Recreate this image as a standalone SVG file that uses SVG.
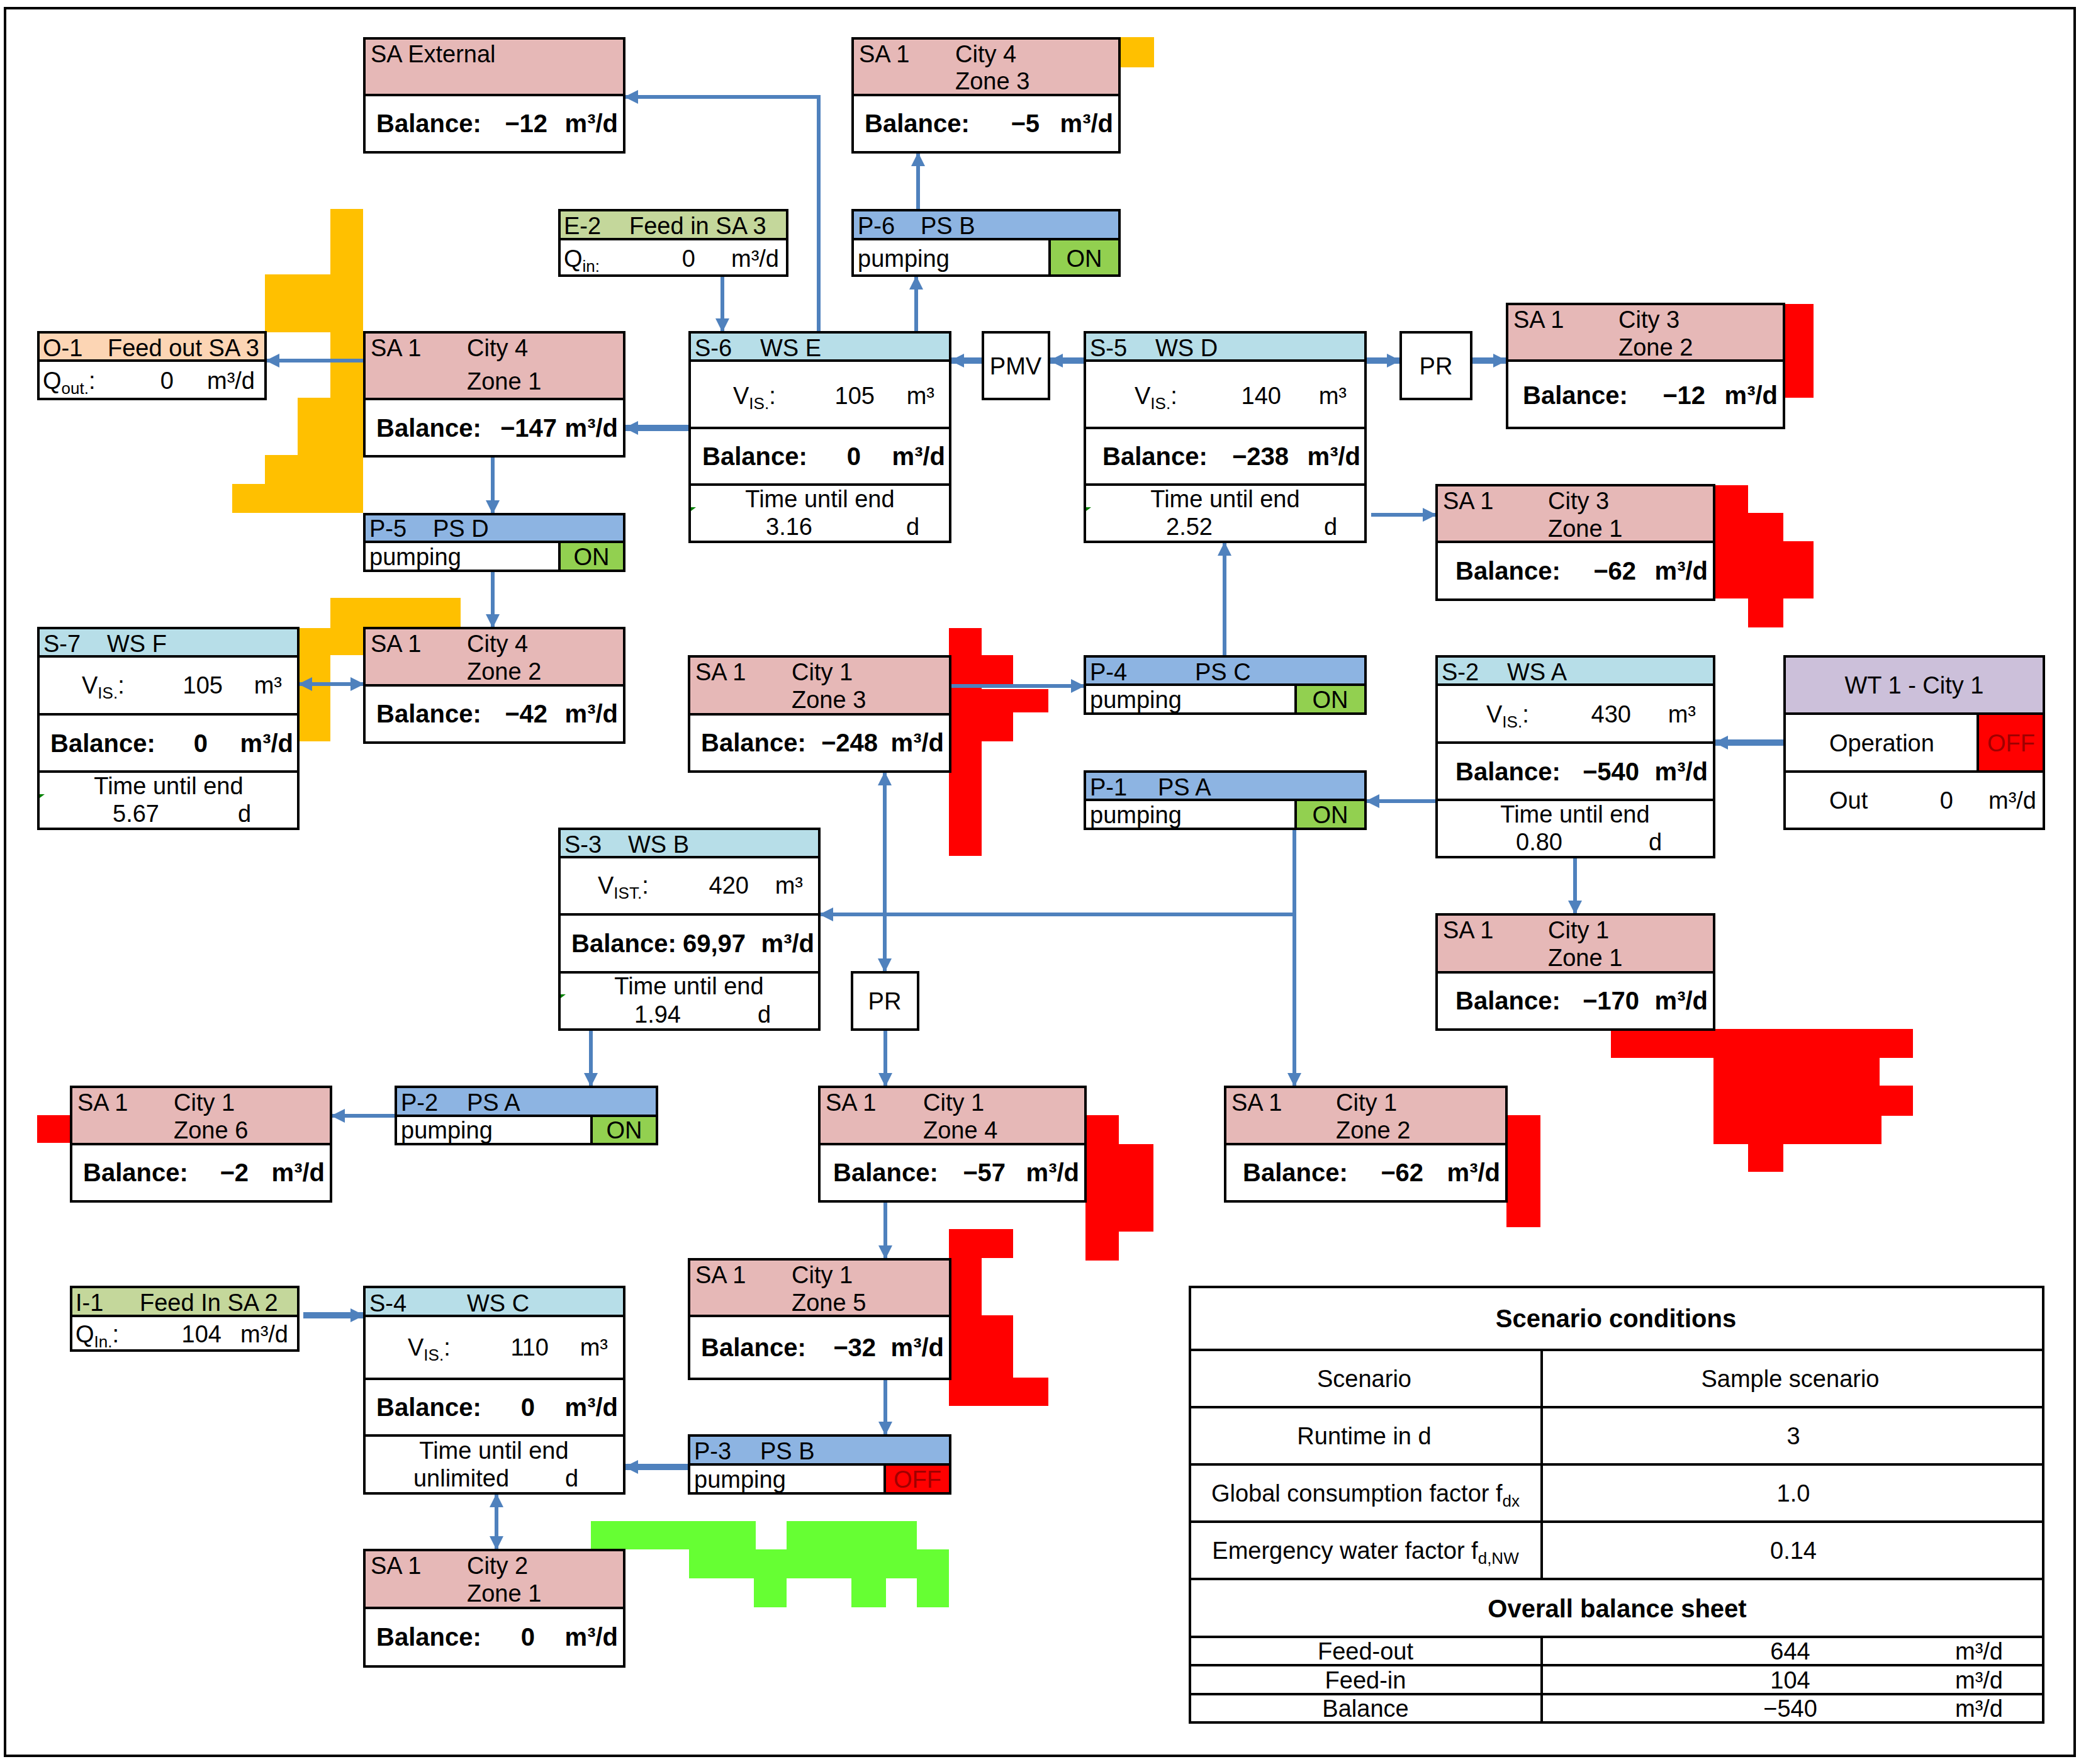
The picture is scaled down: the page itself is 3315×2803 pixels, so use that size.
<svg xmlns="http://www.w3.org/2000/svg" width="3315" height="2803" viewBox="0 0 3315 2803" xml:space="preserve">
<style>
text{font-family:"Liberation Sans",Arial,sans-serif;font-size:38px;fill:#000;white-space:pre}
.b{font-weight:bold;font-size:40px}
.m{text-anchor:middle}
.e{text-anchor:end}
.bx{stroke:#000;stroke-width:4}
.pk{fill:#e6b8b7}.wh{fill:#fff}.lb{fill:#b7dee8}.pb{fill:#8db4e2}.gn{fill:#92d050}.rd{fill:#ff0000}.ol{fill:#c4d79b}.pc{fill:#fcd5b4}.pu{fill:#ccc0da}
.c{stroke:#4f81bd;stroke-width:6;fill:none;marker-end:url(#a)}
.t{stroke-width:10}
.d{marker-start:url(#a)}
.off{fill:#a00000}
</style>
<defs>
<marker id="a" markerUnits="userSpaceOnUse" markerWidth="22" markerHeight="22" refX="20" refY="11" orient="auto-start-reverse"><path d="M0,0 L22,11 L0,22 z" fill="#4f81bd"/></marker>
</defs>
<rect x="0" y="0" width="3315" height="2803" fill="#fff"/>
<rect x="8" y="13" width="3289" height="2777" fill="none" stroke="#000" stroke-width="4"/>
<g id="fills">
<g fill="#ffc000">
<rect x="1779" y="59" width="55" height="48"/>
<rect x="525" y="332" width="52" height="483"/><rect x="421" y="436" width="156" height="92"/><rect x="473" y="632" width="104" height="91"/><rect x="421" y="723" width="156" height="46"/><rect x="369" y="769" width="208" height="46"/>
<rect x="525" y="950" width="207" height="48"/><rect x="474" y="998" width="103" height="43"/><rect x="474" y="1041" width="51" height="137"/>
</g>
<g fill="#ff0000">
<rect x="2835" y="483" width="47" height="149"/>
<rect x="2724" y="771" width="54" height="180"/><rect x="2778" y="815" width="56" height="182"/><rect x="2834" y="860" width="48" height="91"/>
<rect x="1508" y="998" width="52" height="362"/><rect x="1560" y="1041" width="50" height="46"/><rect x="1508" y="1095" width="158" height="37"/><rect x="1560" y="1132" width="50" height="46"/>
<rect x="2560" y="1635" width="480" height="46"/><rect x="2723" y="1681" width="264" height="44"/><rect x="2723" y="1725" width="317" height="48"/><rect x="2723" y="1773" width="267" height="45"/><rect x="2778" y="1818" width="56" height="44"/>
<rect x="59" y="1772" width="54" height="44"/>
<rect x="1725" y="1772" width="53" height="231"/><rect x="1778" y="1818" width="55" height="139"/>
<rect x="2394" y="1772" width="54" height="178"/>
<rect x="1508" y="1953" width="102" height="46"/><rect x="1508" y="1999" width="52" height="91"/><rect x="1508" y="2090" width="102" height="99"/><rect x="1508" y="2189" width="158" height="45"/>
</g>
<g fill="#66ff33">
<rect x="939" y="2417" width="262" height="45"/><rect x="1250" y="2417" width="207" height="45"/><rect x="1095" y="2462" width="413" height="46"/><rect x="1198" y="2508" width="52" height="46"/><rect x="1353" y="2508" width="55" height="46"/><rect x="1457" y="2508" width="51" height="46"/>
</g>
</g>

<g id="connectors">
<path class="c" d="M1301,528 V154 H994"/>
<path class="c" d="M1459,334 V244"/>
<path class="c" d="M1456,528 V440"/>
<path class="c" d="M1148,438 V526"/>
<path class="c t" d="M1562,573 H1512"/>
<path class="c t" d="M1724,573 H1669"/>
<path class="c t" d="M2170,573 H2224"/>
<path class="c t" d="M2338,573 H2393"/>
<path class="c" d="M2179,818 H2281"/>
<path class="c" d="M1946,1043 V863"/>
<path class="c t" d="M1096,680 H994"/>
<path class="c" d="M579,573 H424"/>
<path class="c" d="M783,725 V815"/>
<path class="c" d="M783,907 V996"/>
<path class="c d" d="M476,1087 H577"/>
<path class="c" d="M1510,1090 H1722"/>
<path class="c d" d="M1406,1228 V1543"/>
<path class="c" d="M2057,1317 V1725"/>
<path class="c" d="M2057,1453 H1304"/>
<path class="c" d="M2283,1273 H2172"/>
<path class="c t" d="M2836,1180 H2726"/>
<path class="c" d="M2503,1362 V1451"/>
<path class="c" d="M939,1636 V1725"/>
<path class="c" d="M629,1773 H528"/>
<path class="c" d="M1407,1636 V1725"/>
<path class="c" d="M1407,1909 V1999"/>
<path class="c" d="M1407,2191 V2279"/>
<path class="c t" d="M1095,2331 H994"/>
<path class="c t" d="M482,2090 H577"/>
<path class="c d" d="M789,2375 V2461"/>
</g>

<g id="sa-ext"><rect class="bx pk" x="579" y="61" width="413" height="90"/><rect class="bx wh" x="579" y="151" width="413" height="91"/>
<text x="589" y="99">SA External</text><text class="b" x="598" y="210">Balance:</text><text class="b e" x="870" y="210">−12</text><text class="b e" x="982" y="210">m³/d</text></g>
<g id="sa-c4z3"><rect class="bx pk" x="1355" y="61" width="424" height="90"/><rect class="bx wh" x="1355" y="151" width="424" height="91"/>
<text x="1365" y="99">SA 1</text><text x="1518" y="99">City 4</text><text x="1518" y="142">Zone 3</text><text class="b" x="1374" y="210">Balance:</text><text class="b e" x="1652" y="210">−5</text><text class="b e" x="1769" y="210">m³/d</text></g>
<g id="sa-c4z1"><rect class="bx pk" x="579" y="528" width="413" height="106"/><rect class="bx wh" x="579" y="634" width="413" height="91"/>
<text x="589" y="566">SA 1</text><text x="742" y="566">City 4</text><text x="742" y="619">Zone 1</text><text class="b" x="598" y="694">Balance:</text><text class="b e" x="885" y="694">−147</text><text class="b e" x="982" y="694">m³/d</text></g>
<g id="sa-c3z2"><rect class="bx pk" x="2395" y="483" width="440" height="90"/><rect class="bx wh" x="2395" y="573" width="440" height="107"/>
<text x="2405" y="521">SA 1</text><text x="2572" y="521">City 3</text><text x="2572" y="565">Zone 2</text><text class="b" x="2420" y="642">Balance:</text><text class="b e" x="2710" y="642">−12</text><text class="b e" x="2825" y="642">m³/d</text></g>
<g id="sa-c3z1"><rect class="bx pk" x="2283" y="771" width="441" height="90"/><rect class="bx wh" x="2283" y="861" width="441" height="92"/>
<text x="2293" y="809">SA 1</text><text x="2460" y="809">City 3</text><text x="2460" y="853">Zone 1</text><text class="b" x="2313" y="921">Balance:</text><text class="b e" x="2600" y="921">−62</text><text class="b e" x="2714" y="921">m³/d</text></g>
<g id="sa-c4z2"><rect class="bx pk" x="579" y="998" width="413" height="91"/><rect class="bx wh" x="579" y="1089" width="413" height="91"/>
<text x="589" y="1036">SA 1</text><text x="742" y="1036">City 4</text><text x="742" y="1080">Zone 2</text><text class="b" x="598" y="1148">Balance:</text><text class="b e" x="870" y="1148">−42</text><text class="b e" x="982" y="1148">m³/d</text></g>
<g id="sa-c1z3"><rect class="bx pk" x="1095" y="1043" width="415" height="92"/><rect class="bx wh" x="1095" y="1135" width="415" height="91"/>
<text x="1105" y="1081">SA 1</text><text x="1258" y="1081">City 1</text><text x="1258" y="1125">Zone 3</text><text class="b" x="1114" y="1194">Balance:</text><text class="b e" x="1395" y="1194">−248</text><text class="b e" x="1500" y="1194">m³/d</text></g>
<g id="sa-c1z1"><rect class="bx pk" x="2283" y="1453" width="441" height="92"/><rect class="bx wh" x="2283" y="1545" width="441" height="91"/>
<text x="2293" y="1491">SA 1</text><text x="2460" y="1491">City 1</text><text x="2460" y="1535">Zone 1</text><text class="b" x="2313" y="1604">Balance:</text><text class="b e" x="2605" y="1604">−170</text><text class="b e" x="2714" y="1604">m³/d</text></g>
<g id="sa-c1z6"><rect class="bx pk" x="113" y="1727" width="413" height="91"/><rect class="bx wh" x="113" y="1818" width="413" height="91"/>
<text x="123" y="1765">SA 1</text><text x="276" y="1765">City 1</text><text x="276" y="1809">Zone 6</text><text class="b" x="132" y="1877">Balance:</text><text class="b e" x="395" y="1877">−2</text><text class="b e" x="516" y="1877">m³/d</text></g>
<g id="sa-c1z4"><rect class="bx pk" x="1302" y="1727" width="423" height="91"/><rect class="bx wh" x="1302" y="1818" width="423" height="91"/>
<text x="1312" y="1765">SA 1</text><text x="1467" y="1765">City 1</text><text x="1467" y="1809">Zone 4</text><text class="b" x="1324" y="1877">Balance:</text><text class="b e" x="1598" y="1877">−57</text><text class="b e" x="1715" y="1877">m³/d</text></g>
<g id="sa-c1z2"><rect class="bx pk" x="1947" y="1727" width="447" height="91"/><rect class="bx wh" x="1947" y="1818" width="447" height="91"/>
<text x="1957" y="1765">SA 1</text><text x="2123" y="1765">City 1</text><text x="2123" y="1809">Zone 2</text><text class="b" x="1975" y="1877">Balance:</text><text class="b e" x="2262" y="1877">−62</text><text class="b e" x="2384" y="1877">m³/d</text></g>
<g id="sa-c1z5"><rect class="bx pk" x="1095" y="2001" width="415" height="90"/><rect class="bx wh" x="1095" y="2091" width="415" height="100"/>
<text x="1105" y="2039">SA 1</text><text x="1258" y="2039">City 1</text><text x="1258" y="2083">Zone 5</text><text class="b" x="1114" y="2155">Balance:</text><text class="b e" x="1392" y="2155">−32</text><text class="b e" x="1500" y="2155">m³/d</text></g>
<g id="sa-c2z1"><rect class="bx pk" x="579" y="2463" width="413" height="92"/><rect class="bx wh" x="579" y="2555" width="413" height="93"/>
<text x="589" y="2501">SA 1</text><text x="742" y="2501">City 2</text><text x="742" y="2545">Zone 1</text><text class="b" x="598" y="2615">Balance:</text><text class="b e" x="850" y="2615">0</text><text class="b e" x="982" y="2615">m³/d</text></g>

<g id="s6"><rect class="bx lb" x="1096" y="528" width="414" height="45"/><rect class="bx wh" x="1096" y="573" width="414" height="107"/><rect class="bx wh" x="1096" y="680" width="414" height="90"/><rect class="bx wh" x="1096" y="770" width="414" height="91"/>
<text x="1104" y="566">S-6</text><text x="1208" y="566">WS E</text><text x="1165" y="642">V<tspan font-size="26" dy="8">IS.</tspan><tspan dy="-8">:</tspan></text><text class="e" x="1390" y="642">105</text><text class="e" x="1485" y="642">m³</text>
<text class="b" x="1116" y="739">Balance:</text><text class="b e" x="1368" y="739">0</text><text class="b e" x="1502" y="739">m³/d</text>
<text class="m" x="1303" y="806">Time until end</text><text class="m" x="1254" y="850">3.16</text><text x="1440" y="850">d</text><path d="M1098,812 l8,-6 l-8,0 z" fill="#008000"/></g>
<g id="s5"><rect class="bx lb" x="1724" y="528" width="446" height="45"/><rect class="bx wh" x="1724" y="573" width="446" height="107"/><rect class="bx wh" x="1724" y="680" width="446" height="90"/><rect class="bx wh" x="1724" y="770" width="446" height="91"/>
<text x="1732" y="566">S-5</text><text x="1836" y="566">WS D</text><text x="1803" y="642">V<tspan font-size="26" dy="8">IS.</tspan><tspan dy="-8">:</tspan></text><text class="e" x="2036" y="642">140</text><text class="e" x="2140" y="642">m³</text>
<text class="b" x="1752" y="739">Balance:</text><text class="b e" x="2048" y="739">−238</text><text class="b e" x="2162" y="739">m³/d</text>
<text class="m" x="1947" y="806">Time until end</text><text class="m" x="1890" y="850">2.52</text><text x="2104" y="850">d</text><path d="M1726,812 l8,-6 l-8,0 z" fill="#008000"/></g>
<g id="s7"><rect class="bx lb" x="61" y="998" width="413" height="45"/><rect class="bx wh" x="61" y="1043" width="413" height="92"/><rect class="bx wh" x="61" y="1135" width="413" height="91"/><rect class="bx wh" x="61" y="1226" width="413" height="91"/>
<text x="69" y="1036">S-7</text><text x="170" y="1036">WS F</text><text x="130" y="1102">V<tspan font-size="26" dy="8">IS.</tspan><tspan dy="-8">:</tspan></text><text class="e" x="354" y="1102">105</text><text class="e" x="448" y="1102">m³</text>
<text class="b" x="80" y="1195">Balance:</text><text class="b e" x="330" y="1195">0</text><text class="b e" x="466" y="1195">m³/d</text>
<text class="m" x="268" y="1262">Time until end</text><text class="m" x="216" y="1306">5.67</text><text x="378" y="1306">d</text><path d="M63,1268 l8,-6 l-8,0 z" fill="#008000"/></g>
<g id="s2"><rect class="bx lb" x="2283" y="1043" width="441" height="45"/><rect class="bx wh" x="2283" y="1088" width="441" height="92"/><rect class="bx wh" x="2283" y="1180" width="441" height="91"/><rect class="bx wh" x="2283" y="1271" width="441" height="91"/>
<text x="2291" y="1081">S-2</text><text x="2395" y="1081">WS A</text><text x="2362" y="1148">V<tspan font-size="26" dy="8">IS.</tspan><tspan dy="-8">:</tspan></text><text class="e" x="2592" y="1148">430</text><text class="e" x="2695" y="1148">m³</text>
<text class="b" x="2313" y="1240">Balance:</text><text class="b e" x="2605" y="1240">−540</text><text class="b e" x="2714" y="1240">m³/d</text>
<text class="m" x="2503" y="1307">Time until end</text><text class="m" x="2446" y="1351">0.80</text><text x="2620" y="1351">d</text></g>
<g id="s3"><rect class="bx lb" x="889" y="1317" width="413" height="45"/><rect class="bx wh" x="889" y="1362" width="413" height="91"/><rect class="bx wh" x="889" y="1453" width="413" height="92"/><rect class="bx wh" x="889" y="1545" width="413" height="91"/>
<text x="897" y="1355">S-3</text><text x="998" y="1355">WS B</text><text x="950" y="1420">V<tspan font-size="26" dy="8">IST.</tspan><tspan dy="-8">:</tspan></text><text class="e" x="1190" y="1420">420</text><text class="e" x="1276" y="1420">m³</text>
<text class="b" x="908" y="1513">Balance:</text><text class="b e" x="1185" y="1513">69,97</text><text class="b e" x="1294" y="1513">m³/d</text>
<text class="m" x="1095" y="1580">Time until end</text><text class="m" x="1045" y="1625">1.94</text><text x="1204" y="1625">d</text><path d="M891,1586 l8,-6 l-8,0 z" fill="#008000"/></g>
<g id="s4"><rect class="bx lb" x="579" y="2045" width="413" height="46"/><rect class="bx wh" x="579" y="2091" width="413" height="100"/><rect class="bx wh" x="579" y="2191" width="413" height="90"/><rect class="bx wh" x="579" y="2281" width="413" height="92"/>
<text x="587" y="2084">S-4</text><text x="742" y="2084">WS C</text><text x="648" y="2154">V<tspan font-size="26" dy="8">IS.</tspan><tspan dy="-8">:</tspan></text><text class="e" x="872" y="2154">110</text><text class="e" x="966" y="2154">m³</text>
<text class="b" x="598" y="2250">Balance:</text><text class="b e" x="850" y="2250">0</text><text class="b e" x="982" y="2250">m³/d</text>
<text class="m" x="785" y="2318">Time until end</text><text class="m" x="733" y="2362">unlimited</text><text x="898" y="2362">d</text></g>

<g id="p6"><rect class="bx pb" x="1355" y="334" width="424" height="46"/><rect class="bx wh" x="1355" y="380" width="313" height="58"/><rect class="bx gn" x="1668" y="380" width="111" height="58"/>
<text x="1363" y="372">P-6</text><text x="1463" y="372">PS B</text><text x="1363" y="424">pumping</text><text class="m" x="1723" y="424">ON</text></g>
<g id="p5"><rect class="bx pb" x="579" y="817" width="413" height="44"/><rect class="bx wh" x="579" y="861" width="310" height="46"/><rect class="bx gn" x="889" y="861" width="103" height="46"/>
<text x="587" y="853">P-5</text><text x="688" y="853">PS D</text><text x="587" y="898">pumping</text><text class="m" x="940" y="898">ON</text></g>
<g id="p4"><rect class="bx pb" x="1724" y="1043" width="446" height="45"/><rect class="bx wh" x="1724" y="1088" width="335" height="46"/><rect class="bx gn" x="2059" y="1088" width="111" height="46"/>
<text x="1732" y="1081">P-4</text><text x="1899" y="1081">PS C</text><text x="1732" y="1125">pumping</text><text class="m" x="2114" y="1125">ON</text></g>
<g id="p1"><rect class="bx pb" x="1724" y="1226" width="446" height="45"/><rect class="bx wh" x="1724" y="1271" width="335" height="46"/><rect class="bx gn" x="2059" y="1271" width="111" height="46"/>
<text x="1732" y="1264">P-1</text><text x="1840" y="1264">PS A</text><text x="1732" y="1308">pumping</text><text class="m" x="2114" y="1308">ON</text></g>
<g id="p2"><rect class="bx pb" x="629" y="1727" width="415" height="46"/><rect class="bx wh" x="629" y="1773" width="311" height="45"/><rect class="bx gn" x="940" y="1773" width="104" height="45"/>
<text x="637" y="1765">P-2</text><text x="742" y="1765">PS A</text><text x="637" y="1809">pumping</text><text class="m" x="992" y="1809">ON</text></g>
<g id="p3"><rect class="bx pb" x="1095" y="2281" width="415" height="46"/><rect class="bx wh" x="1095" y="2327" width="311" height="46"/><rect class="bx rd" x="1406" y="2327" width="104" height="46"/>
<text x="1103" y="2319">P-3</text><text x="1208" y="2319">PS B</text><text x="1103" y="2364">pumping</text><text class="m off" x="1458" y="2364">OFF</text></g>

<g id="e2"><rect class="bx ol" x="889" y="334" width="362" height="46"/><rect class="bx wh" x="889" y="380" width="362" height="58"/>
<text x="896" y="372">E-2</text><text x="1000" y="372">Feed in SA 3</text><text x="896" y="424">Q<tspan font-size="26" dy="8">in:</tspan></text><text class="e" x="1105" y="424">0</text><text class="e" x="1238" y="424">m³/d</text></g>
<g id="o1"><rect class="bx pc" x="61" y="528" width="361" height="45"/><rect class="bx wh" x="61" y="573" width="361" height="61"/>
<text x="68" y="566">O-1</text><text x="171" y="566">Feed out SA 3</text><text x="68" y="618">Q<tspan font-size="26" dy="8">out.</tspan><tspan dy="-8">:</tspan></text><text class="e" x="276" y="618">0</text><text class="e" x="405" y="618">m³/d</text></g>
<g id="i1"><rect class="bx ol" x="113" y="2045" width="361" height="46"/><rect class="bx wh" x="113" y="2091" width="361" height="55"/>
<text x="120" y="2083">I-1</text><text x="222" y="2083">Feed In SA 2</text><text x="120" y="2133">Q<tspan font-size="26" dy="8">In.</tspan><tspan dy="-8">:</tspan></text><text class="e" x="352" y="2133">104</text><text class="e" x="458" y="2133">m³/d</text></g>

<g id="pmv"><rect class="bx wh" x="1562" y="528" width="105" height="106"/><text class="m" x="1614" y="595">PMV</text></g>
<g id="pr1"><rect class="bx wh" x="2226" y="528" width="112" height="106"/><text class="m" x="2282" y="595">PR</text></g>
<g id="pr2"><rect class="bx wh" x="1354" y="1545" width="105" height="91"/><text class="m" x="1406" y="1604">PR</text></g>

<g id="wt1"><rect class="bx pu" x="2836" y="1043" width="412" height="91"/><rect class="bx wh" x="2836" y="1134" width="307" height="92"/><rect class="bx rd" x="3143" y="1134" width="105" height="92"/><rect class="bx wh" x="2836" y="1226" width="412" height="91"/>
<text class="m" x="3042" y="1102">WT 1 - City 1</text><text x="2907" y="1194">Operation</text><text class="m off" x="3196" y="1194">OFF</text>
<text x="2907" y="1285">Out</text><text class="e" x="3104" y="1285">0</text><text class="e" x="3236" y="1285">m³/d</text></g>

<g id="table">
<rect x="1891" y="2045" width="1356" height="692" fill="#fff" stroke="#000" stroke-width="4"/>
<g stroke="#000" stroke-width="4">
<line x1="1891" y1="2145" x2="3247" y2="2145"/><line x1="1891" y1="2236" x2="3247" y2="2236"/><line x1="1891" y1="2327" x2="3247" y2="2327"/><line x1="1891" y1="2418" x2="3247" y2="2418"/><line x1="1891" y1="2509" x2="3247" y2="2509"/><line x1="1891" y1="2601" x2="3247" y2="2601"/><line x1="1891" y1="2646" x2="3247" y2="2646"/><line x1="1891" y1="2692" x2="3247" y2="2692"/>
<line x1="2450" y1="2145" x2="2450" y2="2509"/><line x1="2450" y1="2601" x2="2450" y2="2737"/>
</g>
<text class="b m" x="2568" y="2109">Scenario conditions</text>
<text class="m" x="2168" y="2204">Scenario</text><text class="m" x="2845" y="2204">Sample scenario</text>
<text class="m" x="2168" y="2295">Runtime in d</text><text class="m" x="2850" y="2295">3</text>
<text class="m" x="2170" y="2386">Global consumption factor f<tspan font-size="26" dy="8">dx</tspan></text><text class="m" x="2850" y="2386">1.0</text>
<text class="m" x="2170" y="2477">Emergency water factor f<tspan font-size="26" dy="8">d,NW</tspan></text><text class="m" x="2850" y="2477">0.14</text>
<text class="b m" x="2570" y="2570">Overall balance sheet</text>
<text class="m" x="2170" y="2637">Feed-out</text><text class="m" x="2845" y="2637">644</text><text class="m" x="3145" y="2637">m³/d</text>
<text class="m" x="2170" y="2683">Feed-in</text><text class="m" x="2845" y="2683">104</text><text class="m" x="3145" y="2683">m³/d</text>
<text class="m" x="2170" y="2728">Balance</text><text class="m" x="2845" y="2728">−540</text><text class="m" x="3145" y="2728">m³/d</text>
</g>
</svg>
